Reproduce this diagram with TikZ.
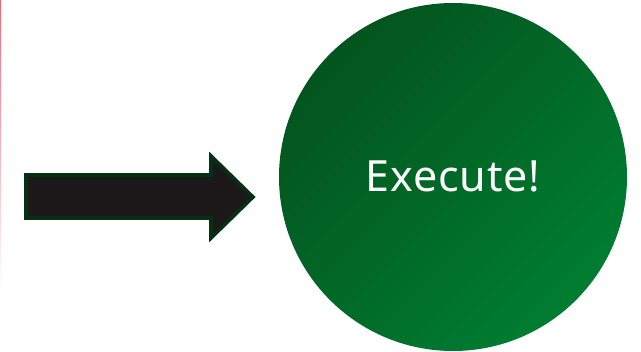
\documentclass[tikz,border=0pt]{standalone}
\usepackage{fontspec}
\setmainfont{Noto Sans}
\definecolor{ringdark}{HTML}{03541E}
\definecolor{ringlight}{HTML}{007D31}
\definecolor{arrowfill}{HTML}{1C1819}
\definecolor{arrowedge}{HTML}{053014}
\definecolor{edgepink}{HTML}{E8687A}
\tikzset{
  bigarrow/.style={fill=arrowfill, draw=arrowedge, line width=3.6pt, line join=miter},
  goal/.style={circle, minimum size=348pt, inner sep=0pt,
    top color=ringdark, bottom color=ringlight, shading angle=45,
    text=white, font=\fontsize{43}{43}\selectfont},
}
\begin{document}
\begin{tikzpicture}[x=1pt,y=-1pt]
  \useasboundingbox (0,0) rectangle (641,352);
  % faint rule along the left edge
  \shade[top color=edgepink, bottom color=white] (0,0) rectangle (1.2,290);
  % target circle
  \node[goal] (exec) at (453,177) {};
  \node[text=white, font=\fontsize{43}{43}\selectfont, inner sep=0pt, anchor=base]
    (label) at (453,192) {\addfontfeature{LetterSpace=2}Execute!};
  % block arrow pointing at the circle
  \coordinate (tip) at (253,197);
  \draw[bigarrow] (26,175) -- (211,175) -- (211,156) -- (tip)
    -- (211,238) -- (211,218) -- (26,218) -- cycle;
\end{tikzpicture}
\end{document}
